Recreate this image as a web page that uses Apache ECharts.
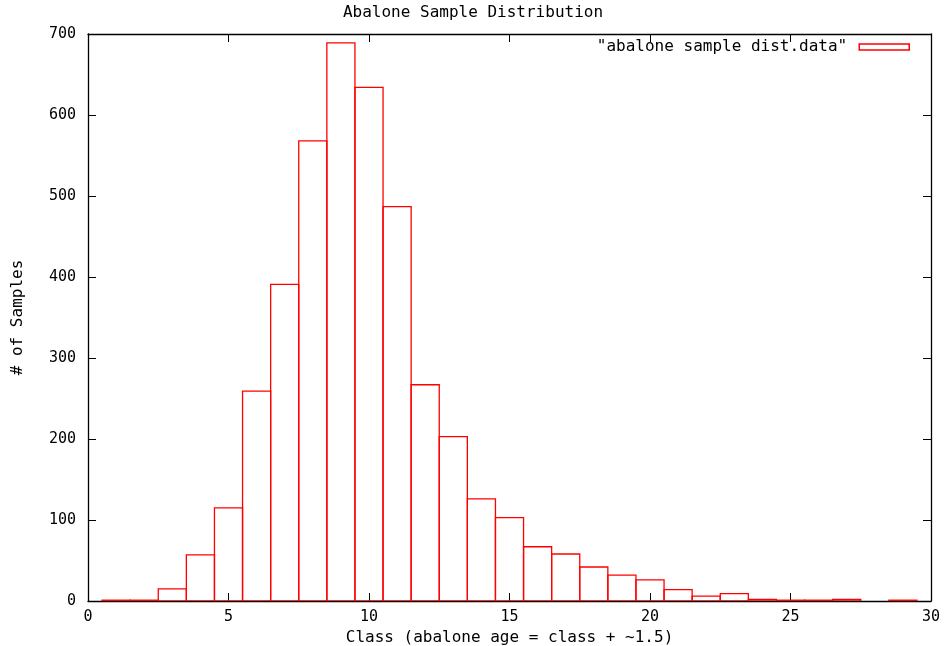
<!DOCTYPE html>
<html>
<head>
<meta charset="utf-8">
<script src="https://cdn.jsdelivr.net/npm/echarts@6/dist/echarts.min.js"></script>
<style>
  html, body { margin: 0; padding: 0; background: #fff; }
  #chart { width: 946px; height: 646px; }
</style>
</head>
<body>
<div id="chart"></div>
<script>
// ring class and number of samples in it
var classes = [1, 2, 3, 4, 5, 6, 7, 8, 9, 10, 11, 12, 13, 14, 15, 16, 17, 18, 19, 20, 21, 22, 23, 24, 25, 26, 27, 29];
var counts = [1, 1, 15, 57, 115, 259, 391, 568, 689, 634, 487, 267, 203, 126, 103, 67, 58, 42, 32, 26, 14, 6, 9, 2, 1, 1, 2, 1];
var seriesName = '"abalone sample dist.data"';

var font = 'DejaVu Sans Mono';
var red = '#ff0000';

var points = classes.map(function (c, i) { return [c, counts[i]]; });

function renderBox(params, api) {
    var x = api.value(0);
    var y = api.value(1);
    var topLeft = api.coord([x - 0.5, y]);
    var bottomRight = api.coord([x + 0.5, 0]);
    return {
        type: 'rect',
        shape: {
            x: topLeft[0],
            y: topLeft[1],
            width: bottomRight[0] - topLeft[0],
            height: bottomRight[1] - topLeft[1]
        },
        style: { fill: 'none', stroke: red, lineWidth: 1.3 }
    };
}

var axisLine = { show: true, onZero: false, lineStyle: { color: '#000', width: 1.3 } };
var axisTick = { show: true, inside: true, length: 8, lineStyle: { color: '#000', width: 1 } };
var label = { color: '#000', fontFamily: font, fontSize: 15 };

var option = {
    backgroundColor: '#fff',
    animation: false,
    title: {
        text: 'Abalone Sample Distribution',
        left: 'center',
        top: 5,
        padding: 0,
        textStyle: { color: '#000', fontFamily: font, fontSize: 16, fontWeight: 'normal' }
    },
    legend: {
        right: 36,
        top: 39,
        padding: 0,
        align: 'right',
        icon: 'rect',
        itemWidth: 50,
        itemHeight: 6,
        itemStyle: { color: '#fff', borderColor: red, borderWidth: 1.5 },
        textStyle: { color: '#000', fontFamily: font, fontSize: 16, padding: [0, 7, 0, 0] },
        data: [seriesName]
    },
    grid: {
        left: 88,
        right: 15,
        top: 34,
        bottom: 45,
        containLabel: false,
        outerBoundsMode: 'none'
    },
    xAxis: [
        {
            type: 'value',
            min: 0,
            max: 30,
            interval: 5,
            name: 'Class (abalone age = class + ~1.5)',
            nameLocation: 'middle',
            nameGap: 28,
            nameTextStyle: { color: '#000', fontFamily: font, fontSize: 16 },
            axisLine: axisLine,
            axisTick: axisTick,
            axisLabel: Object.assign({ margin: 9 }, label),
            splitLine: { show: false }
        },
        {
            type: 'value',
            position: 'top',
            min: 0,
            max: 30,
            interval: 5,
            axisLine: axisLine,
            axisTick: axisTick,
            axisLabel: { show: false },
            splitLine: { show: false }
        }
    ],
    yAxis: [
        {
            type: 'value',
            min: 0,
            max: 700,
            interval: 100,
            name: '# of Samples',
            nameLocation: 'middle',
            nameGap: 62,
            nameTextStyle: { color: '#000', fontFamily: font, fontSize: 16 },
            axisLine: axisLine,
            axisTick: axisTick,
            axisLabel: Object.assign({ margin: 12 }, label),
            splitLine: { show: false }
        },
        {
            type: 'value',
            position: 'right',
            min: 0,
            max: 700,
            interval: 100,
            axisLine: axisLine,
            axisTick: axisTick,
            axisLabel: { show: false },
            splitLine: { show: false }
        }
    ],
    series: [
        {
            name: seriesName,
            type: 'custom',
            renderItem: renderBox,
            itemStyle: { color: red },
            encode: { x: 0, y: 1 },
            data: points,
            clip: true
        }
    ]
};

var myChart = echarts.init(document.getElementById('chart'));
myChart.setOption(option);
</script>
</body>
</html>
